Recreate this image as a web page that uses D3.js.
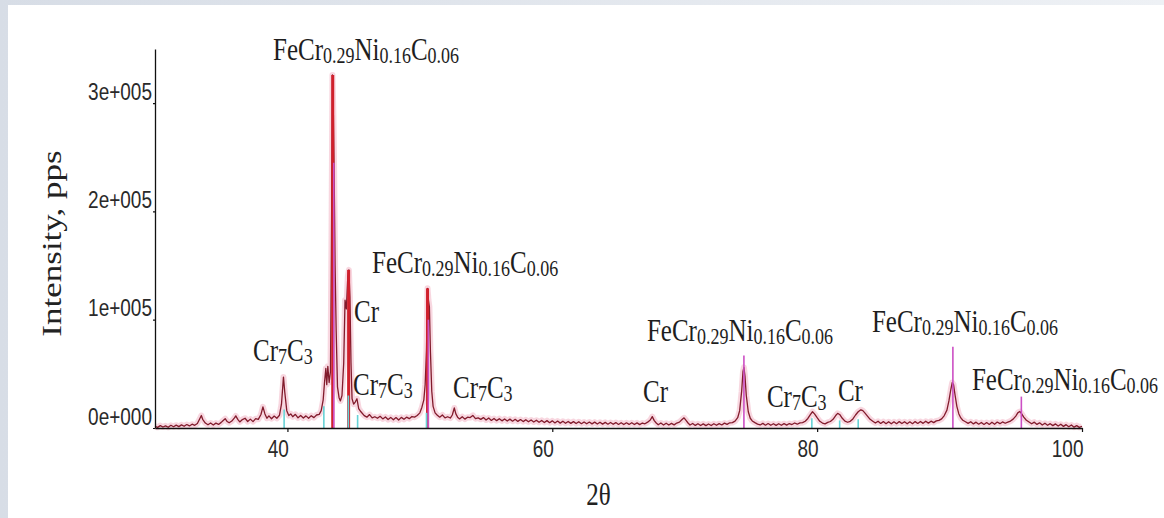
<!DOCTYPE html>
<html>
<head>
<meta charset="utf-8">
<script src="https://cdn.jsdelivr.net/npm/d3@7"></script>
<style>
  html, body { margin: 0; padding: 0; background: #e3e8ef; }
  svg { display: block; }
</style>
</head>
<body>
<div id="chart"></div>
<script>
// measured pattern: [2theta, intensity in pps]
const trace = [
  [30.0,1500],[30.2,600],[30.4,2200],[30.6,900],[30.8,2000],[31.0,700],[31.2,2500],[31.4,1200],
  [31.6,2600],[31.8,1300],[32.0,2900],[32.2,1600],[32.4,3200],[32.6,1900],[32.8,3500],[33.0,2500],
  [33.2,4200],[33.4,9000],[33.5,11500],[33.6,8000],[33.8,4600],[34.0,3000],[34.2,4600],[34.4,2800],
  [34.6,4500],[34.8,3300],[35.0,5200],[35.15,7000],[35.3,8600],[35.45,6000],[35.6,4800],[35.8,6400],
  [36.0,9400],[36.1,11200],[36.25,8000],[36.4,5600],[36.6,7800],[36.8,9000],[37.0,6000],[37.2,8200],
  [37.4,5900],[37.6,8600],[37.8,8000],[38.0,12500],[38.15,19500],[38.3,13000],[38.45,9000],[38.6,11200],
  [38.8,8600],[39.0,11000],[39.2,9000],[39.4,11800],[39.55,22000],[39.7,47000],[39.8,33000],[39.95,16000],
  [40.1,11500],[40.25,13000],[40.4,10400],[40.6,12600],[40.8,9400],[41.0,11600],[41.2,9200],[41.4,11200],
  [41.6,9000],[41.8,11400],[42.0,9600],[42.2,12000],[42.4,12600],[42.55,16000],[42.7,26000],[42.8,42000],
  [42.9,55000],[42.97,40000],[43.05,57000],[43.15,42000],[43.25,52000],[43.32,160000],[43.4,326000],[43.47,290000],
  [43.52,244000],[43.6,150000],[43.68,90000],[43.78,38000],[43.9,28000],[44.0,25000],[44.12,30000],[44.25,60000],
  [44.35,118000],[44.45,110000],[44.56,140000],[44.64,146000],[44.72,121000],[44.8,60000],[44.88,27000],[45.0,22000],
  [45.12,24000],[45.25,27000],[45.38,18000],[45.55,15000],[45.8,11400],[46.0,10000],[46.2,12400],[46.4,9400],
  [46.6,10400],[46.8,9000],[47.0,10800],[47.2,8400],[47.4,10200],[47.6,7800],[47.8,9800],[48.0,7600],
  [48.2,9600],[48.4,7400],[48.6,9800],[48.8,8000],[49.0,10000],[49.2,8600],[49.4,10600],[49.6,10000],
  [49.8,11500],[50.0,14000],[50.15,19000],[50.3,26000],[50.4,40000],[50.5,72000],[50.58,129000],[50.65,118000],
  [50.72,112000],[50.8,70000],[50.9,34000],[51.0,20000],[51.15,14000],[51.3,12000],[51.5,10000],[51.7,12000],
  [51.9,9400],[52.1,10400],[52.3,9200],[52.45,12000],[52.6,18500],[52.72,13000],[52.85,10000],[53.0,8400],
  [53.2,10400],[53.4,8200],[53.6,10000],[53.8,9600],[54.0,11600],[54.2,8600],[54.4,9400],[54.6,8000],
  [54.8,9600],[55.0,7400],[55.2,9200],[55.4,7000],[55.6,8800],[55.8,6800],[56.0,8600],[56.2,6600],
  [56.4,8400],[56.6,6400],[56.8,8200],[57.0,6300],[57.2,8000],[57.4,6100],[57.6,7800],[57.8,5900],
  [58.0,7600],[58.2,5700],[58.4,7400],[58.6,5500],[58.8,7200],[59.0,5300],[59.2,7000],[59.4,5100],
  [59.6,6800],[59.8,4900],[60.0,6600],[60.2,4700],[60.4,6400],[60.6,4500],[60.8,6200],[61.0,4400],
  [61.2,6000],[61.4,4300],[61.6,5900],[61.8,4100],[62.0,5800],[62.2,4000],[62.4,5600],[62.6,3900],
  [62.8,5500],[63.0,3800],[63.2,5400],[63.4,3700],[63.6,5300],[63.8,3600],[64.0,5200],[64.2,3500],
  [64.4,5100],[64.6,3400],[64.8,5000],[65.0,3300],[65.2,4900],[65.4,3200],[65.6,4800],[65.8,3300],
  [66.0,4900],[66.2,3200],[66.4,4700],[66.6,3100],[66.8,4600],[67.0,3900],[67.2,5400],[67.4,7400],
  [67.55,10500],[67.7,6800],[67.85,4600],[68.0,3000],[68.2,4600],[68.4,2800],[68.6,4400],[68.8,2700],
  [69.0,4300],[69.2,2900],[69.4,4600],[69.6,5400],[69.8,7800],[69.95,9400],[70.1,7000],[70.25,4600],
  [70.4,2800],[70.6,4200],[70.8,2400],[71.0,3900],[71.2,2300],[71.4,3800],[71.6,2200],[71.8,3700],
  [72.0,2300],[72.2,3900],[72.4,2500],[72.6,4000],[72.8,2800],[73.0,4500],[73.2,3300],[73.4,4800],
  [73.6,5000],[73.8,6400],[74.0,9500],[74.15,16000],[74.3,34000],[74.4,52000],[74.47,56000],[74.55,48000],
  [74.65,30000],[74.8,15000],[74.95,9000],[75.1,6500],[75.3,5000],[75.5,3600],[75.7,2800],[75.9,4300],
  [76.1,2600],[76.3,4100],[76.5,2500],[76.7,3900],[76.9,2400],[77.1,3900],[77.3,2500],[77.5,4000],
  [77.7,2700],[77.9,4100],[78.1,3200],[78.3,4600],[78.5,3500],[78.7,4800],[78.9,4900],[79.1,6200],
  [79.3,8800],[79.5,12500],[79.65,15000],[79.8,13000],[80.0,9500],[80.2,6200],[80.4,4600],[80.6,3800],
  [80.8,5200],[81.0,6000],[81.2,8000],[81.4,11500],[81.55,13500],[81.7,12500],[81.9,9000],[82.1,6300],
  [82.3,5300],[82.5,6200],[82.7,8400],[82.9,12000],[83.1,15000],[83.3,16800],[83.45,16000],[83.6,14000],
  [83.8,11000],[84.0,8000],[84.2,6300],[84.4,4600],[84.6,6200],[84.8,4200],[85.0,5900],[85.2,4000],
  [85.4,5800],[85.6,3900],[85.8,5700],[86.0,4000],[86.2,5900],[86.4,4100],[86.6,5800],[86.8,3900],
  [87.0,5700],[87.2,4000],[87.4,5900],[87.6,4200],[87.8,6000],[88.0,4300],[88.2,6200],[88.4,4500],
  [88.6,6300],[88.8,5000],[89.0,6600],[89.2,7000],[89.4,8400],[89.6,11500],[89.8,16500],[89.95,25000],
  [90.1,36000],[90.2,42000],[90.3,40000],[90.42,30000],[90.55,20000],[90.7,13000],[90.85,9300],[91.0,7200],
  [91.2,5800],[91.4,4300],[91.6,5800],[91.8,3800],[92.0,5400],[92.2,3500],[92.4,5100],[92.6,3300],
  [92.8,5000],[93.0,3300],[93.2,5300],[93.4,3500],[93.6,5500],[93.8,4000],[94.0,5600],[94.2,4400],
  [94.4,5400],[94.6,6400],[94.8,8200],[95.0,11000],[95.15,14000],[95.3,15200],[95.45,13000],[95.6,10000],
  [95.8,7200],[96.0,5600],[96.2,3900],[96.4,5400],[96.6,3300],[96.8,4800],[97.0,2800],[97.2,4400],
  [97.4,2500],[97.6,4000],[97.8,2200],[98.0,3800],[98.2,1800],[98.4,3500],[98.6,1500],[98.8,3100],
  [99.0,1200],[99.2,2800],[99.4,800],[99.6,2200],[99.8,600],[100.0,1600]
];

// reference lines of the phases: [2theta, intensity]
const redSticks = [[43.42, 326000], [44.62, 146000], [50.58, 129000]];
const magentaSticks = [[43.5, 245000], [50.64, 100000], [74.47, 67000], [90.25, 75000], [95.42, 29000]];
const cyanSticks = [[39.75, 17000], [42.75, 20000], [44.6, 30000], [45.3, 12000], [50.5, 14000],
  [79.6, 9000], [81.7, 7000], [83.1, 8000]];

const xTicks = [40, 60, 80, 100];
const yTicks = [0, 100000, 200000, 300000];
const yTickLabels = ['0e+000', '1e+005', '2e+005', '3e+005'];

// peak labels: phase name and where the label starts (2theta, intensity)
const labelPhase = ['FeCr', 'FeCr', 'Cr', 'Cr7C3', 'Cr7C3', 'Cr7C3', 'Cr', 'FeCr', 'Cr7C3', 'Cr', 'FeCr', 'FeCr'];
const labelAnchor = [[38.91, 339700], [46.39, 143000], [45.03, 97800], [37.40, 61800], [44.95, 30500],
  [52.50, 27700], [66.85, 24000], [67.15, 80300], [76.21, 19400], [81.57, 24900], [84.14, 88600], [91.69, 35100]];

// formula pieces, true = subscript
const phaseText = {
  'FeCr': [['FeCr', false], ['0.29', true], ['Ni', false], ['0.16', true], ['C', false], ['0.06', true]],
  'Cr7C3': [['Cr', false], ['7', true], ['C', false], ['3', true]],
  'Cr': [['Cr', false]]
};

class XrdChart {

  constructor(_config) {
    this.config = {
      parentElement: _config.parentElement,
      containerWidth: _config.containerWidth || 1164,
      containerHeight: _config.containerHeight || 518,
      margin: _config.margin || { top: 49, right: 82, bottom: 90, left: 155 }
    };
    this.initVis();
  }

  initVis() {
    let vis = this;
    const m = vis.config.margin;
    vis.width = vis.config.containerWidth - m.left - m.right;
    vis.height = vis.config.containerHeight - m.top - m.bottom;

    vis.xScale = d3.scaleLinear().domain([30, 100]).range([0, vis.width]);
    vis.yScale = d3.scaleLinear().domain([0, 350000]).range([vis.height, 0]);

    vis.svg = d3.select(vis.config.parentElement)
      .append('svg')
      .attr('width', vis.config.containerWidth)
      .attr('height', vis.config.containerHeight);

    // grey frame with the white page on it
    const grad = vis.svg.append('defs').append('linearGradient')
      .attr('id', 'frame').attr('x1', 0).attr('x2', 1).attr('y1', 0).attr('y2', 0);
    grad.append('stop').attr('offset', 0).attr('stop-color', '#d7dde6');
    grad.append('stop').attr('offset', 1).attr('stop-color', '#eef1f5');
    vis.svg.append('rect').attr('width', vis.config.containerWidth).attr('height', vis.config.containerHeight)
      .attr('fill', 'url(#frame)');
    vis.svg.append('rect').attr('x', 8).attr('y', 5)
      .attr('width', vis.config.containerWidth - 8).attr('height', vis.config.containerHeight - 5)
      .attr('fill', '#ffffff');

    vis.chart = vis.svg.append('g')
      .attr('transform', `translate(${m.left},${m.top})`);

    vis.traceG = vis.chart.append('g');
    vis.stickG = vis.chart.append('g');
    vis.labelG = vis.chart.append('g');

    vis.xAxisG = vis.chart.append('g').attr('transform', `translate(0,${vis.height})`);
    vis.yAxisG = vis.chart.append('g');

    // axis titles
    vis.chart.append('text')
      .attr('transform', `translate(${-94},${vis.height / 2 + 5}) rotate(-90) scale(1.25,1)`)
      .attr('text-anchor', 'middle')
      .style('font-family', '"Liberation Serif", "Times New Roman", serif')
      .style('font-size', '28px')
      .attr('fill', '#222')
      .text('Intensity, pps');

    vis.chart.append('text')
      .attr('transform', `translate(${vis.width / 2 - 20},${vis.height + 77}) scale(1,1.25)`)
      .attr('text-anchor', 'middle')
      .style('font-family', '"Liberation Serif", "Times New Roman", serif')
      .style('font-size', '25px')
      .attr('fill', '#222')
      .text('2θ');
  }

  updateVis() {
    let vis = this;
    vis.xValue = d => d[0];
    vis.yValue = d => d[1];
    vis.renderVis();
  }

  renderVis() {
    let vis = this;
    const line = d3.line()
      .x(d => vis.xScale(vis.xValue(d)))
      .y(d => vis.yScale(vis.yValue(d)));

    // soft pink fringe, then the dark trace
    vis.traceG.append('path').datum(trace)
      .attr('d', line).attr('fill', 'none')
      .attr('stroke', '#f3bccb').attr('stroke-width', 6).attr('stroke-opacity', 0.6)
      .attr('stroke-linejoin', 'round');
    vis.traceG.append('path').datum(trace)
      .attr('d', line).attr('fill', 'none')
      .attr('stroke', '#821b2c').attr('stroke-width', 1.3)
      .attr('stroke-linejoin', 'round');

    const drawSticks = (data, colour, w) => {
      vis.stickG.selectAll(null).data(data).enter().append('line')
        .attr('x1', d => vis.xScale(d[0])).attr('x2', d => vis.xScale(d[0]))
        .attr('y1', vis.yScale(0)).attr('y2', d => vis.yScale(d[1]))
        .attr('stroke', colour).attr('stroke-width', w);
    };
    drawSticks(redSticks, '#d0202c', 3);
    drawSticks(magentaSticks, '#cc4fc4', 1.6);
    drawSticks(cyanSticks, '#66d2d6', 1.6);

    // axes
    const tickFont = '"Liberation Sans", Arial, sans-serif';
    vis.xAxisG.call(d3.axisBottom(vis.xScale).tickValues(xTicks).tickSize(4).tickSizeOuter(0).tickFormat(d3.format('d')));
    vis.yAxisG.call(d3.axisLeft(vis.yScale).tickValues(yTicks).tickSize(2).tickSizeOuter(0)
      .tickFormat((d, i) => yTickLabels[i]));

    [vis.xAxisG, vis.yAxisG].forEach(g => {
      g.select('.domain').attr('stroke', '#111').attr('stroke-width', 1.3);
      g.selectAll('.tick line').attr('stroke', '#111').attr('stroke-width', 1.2);
      g.selectAll('.tick text')
        .style('font-family', tickFont).style('font-size', '19px').attr('fill', '#2a2a2a');
    });
    vis.xAxisG.selectAll('.tick text')
      .attr('text-anchor', 'end').attr('x', 0).attr('y', 0).attr('dy', null)
      .attr('transform', 'translate(1,29) scale(1,1.25)');
    vis.yAxisG.selectAll('.tick text')
      .attr('text-anchor', 'end').attr('x', 0).attr('y', 0).attr('dy', null)
      .attr('transform', 'translate(-3,-4) scale(1,1.25)');

    // peak labels
    const labels = vis.labelG.selectAll('g.peak-label')
      .data(labelPhase.map((p, i) => ({ phase: p, at: labelAnchor[i] })))
      .enter().append('g')
      .attr('class', 'peak-label')
      .attr('transform', d => `translate(${vis.xScale(d.at[0])},${vis.yScale(d.at[1])}) scale(1,1.25)`);

    const txt = labels.append('text')
      .style('font-family', '"Liberation Serif", "Times New Roman", serif')
      .style('font-size', '25px')
      .attr('fill', '#1e1e1e');

    txt.each(function(d) {
      const t = d3.select(this);
      let wasSub = false;
      phaseText[d.phase].forEach(([s, sub]) => {
        const ts = t.append('tspan').text(s);
        if (sub) ts.style('font-size', '18px');
        if (sub && !wasSub) ts.attr('dy', 2.5);
        if (!sub && wasSub) ts.attr('dy', -2.5);
        wasSub = sub;
      });
    });
  }
}

const chart = new XrdChart({ parentElement: '#chart' });
chart.updateVis();
</script>
</body>
</html>
